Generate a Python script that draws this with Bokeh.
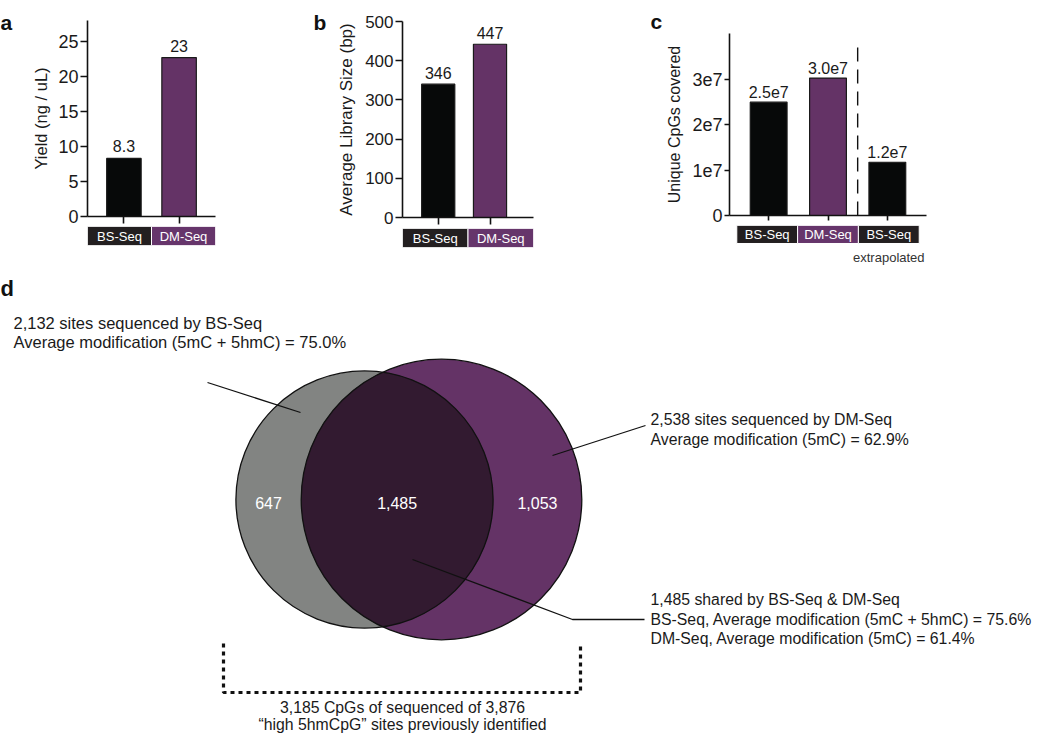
import numpy as np
from bokeh.plotting import figure
from bokeh.models import Range1d, FixedTicker, CustomJSTickFormatter
from bokeh.layouts import row, column
from bokeh.embed import file_html
from bokeh.resources import INLINE
from bokeh.core.properties import value

FONT = "Liberation Sans"

# ---------------- data ----------------
methods_ab = ["BS-Seq", "DM-Seq"]
yield_vals = [8.3, 22.7]
yield_labels = ["8.3", "23"]

libsize_vals = [340, 442]
libsize_labels = ["346", "447"]

cpg_box_text = ["BS-Seq", "DM-Seq", "BS-Seq"]
cpg_sub_text = ["", "", "extrapolated"]
cpg_vals = [2.49e7, 3.02e7, 1.17e7]
cpg_labels = ["2.5e7", "3.0e7", "1.2e7"]

venn_bs_only = 647
venn_shared = 1485
venn_dm_only = 1053

bs_text = ["2,132 sites sequenced by BS-Seq",
           "Average modification (5mC + 5hmC) = 75.0%"]
dm_text = ["2,538 sites sequenced by DM-Seq",
           "Average modification (5mC) = 62.9%"]
shared_text = ["1,485 shared by BS-Seq & DM-Seq",
               "BS-Seq, Average modification (5mC + 5hmC) = 75.6%",
               "DM-Seq, Average modification (5mC) = 61.4%"]
bottom_text = ["3,185 CpGs of sequenced of 3,876",
               "\u201chigh 5hmCpG\u201d sites previously identified"]

# ---------------- styles ----------------
BAR_BLACK = "#070909"
PURPLE = "#643366"
BOX_BLACK = "#231f20"
BOX_PURPLE = "#66356b"
GRAY = "#828482"
OVERLAP = "#321a30"
TXT = "#1a1a1a"


def base_fig(**kw):
    p = figure(output_backend="svg", toolbar_location=None, title=None, **kw)
    p.outline_line_color = None
    p.grid.visible = False
    p.background_fill_color = "white"
    p.border_fill_color = "white"
    return p


def letter_fig(width, height, letter, x, base):
    p = base_fig(width=width, height=height, x_range=Range1d(0, width),
                 y_range=Range1d(height, 0), x_axis_location=None,
                 y_axis_location=None, min_border=0)
    p.text(x=[x], y=[base], text=[letter], text_align="left",
           text_baseline="alphabetic", text_font=value(FONT),
           text_font_size="21px", text_font_style="bold", text_color="#111")
    return p


def bar_panel(width, height, bl, br, bt, bb, xr, yr, yticks, vals, labels,
              colors, ylabel, ylabel_size, tick_size, tick_out, label_standoff,
              bar_w, y_off, formatter=None):
    p = base_fig(width=width, height=height, x_range=Range1d(*xr),
                 y_range=Range1d(*yr), min_border_left=bl, min_border_right=br,
                 min_border_top=bt, min_border_bottom=bb)
    x = list(range(len(vals)))
    p.vbar(x=x, top=vals, width=bar_w, bottom=0, fill_color=colors,
           line_color="#1a1a1a", line_width=1.2)
    p.text(x=x, y=vals, text=labels, text_align="center",
           text_baseline="alphabetic", y_offset=y_off,
           text_font=value(FONT), text_font_size="16px", text_color=TXT)
    ya = p.yaxis[0]
    ya.ticker = FixedTicker(ticks=yticks)
    if formatter is not None:
        ya.formatter = formatter
    ya.axis_label = ylabel
    ya.axis_label_text_font = FONT
    ya.axis_label_text_font_style = "normal"
    ya.axis_label_text_font_size = ylabel_size
    ya.axis_label_text_color = TXT
    ya.axis_label_standoff = label_standoff
    ya.major_label_text_font = FONT
    ya.major_label_text_font_size = tick_size
    ya.major_label_text_color = TXT
    ya.major_label_standoff = 2
    xa = p.xaxis[0]
    xa.ticker = FixedTicker(ticks=x)
    xa.formatter = CustomJSTickFormatter(code="return '';")
    xa.major_label_standoff = 0
    for ax in (xa, ya):
        ax.axis_line_width = 1.6
        ax.axis_line_color = "#111"
        ax.major_tick_line_width = 1.6
        ax.major_tick_line_color = "#111"
        ax.major_tick_in = 0
        ax.major_tick_out = tick_out
        ax.minor_tick_line_color = None
    return p


def box_panel(width, height, bl, br, bb, texts, colors, yr, pad=0.0, subs=None):
    n = len(texts)
    p = base_fig(width=width, height=height,
                 x_range=Range1d(-0.5 - pad, n - 0.5 + pad),
                 y_range=Range1d(*yr), x_axis_location=None, y_axis_location=None,
                 min_border_left=bl, min_border_right=br, min_border_top=0,
                 min_border_bottom=bb)
    xs = np.arange(n)
    p.quad(left=xs - 0.5, right=xs + 0.5, bottom=0, top=1, fill_color=colors,
           line_color="white", line_width=1)
    p.text(x=xs, y=[0.5] * n, text=texts, text_align="center",
           text_baseline="middle", text_font=value(FONT),
           text_font_size="13px", text_color="white")
    if subs is not None:
        keep = [i for i, s in enumerate(subs) if s]
        p.text(x=[xs[i] for i in keep], y=[-0.78] * len(keep),
               text=[subs[i] for i in keep], text_align="center",
               text_baseline="middle", text_font=value(FONT),
               text_font_size="13px", text_color="#333")
    return p


# ---------------- panel a ----------------
la = letter_fig(18, 34, "a", 0, 22)
pa = bar_panel(292, 226, 67, 95, 20, 10, (-0.66, 1.66), (0, 28),
               list(range(0, 26, 5)), yield_vals, yield_labels,
               [BAR_BLACK, PURPLE], "Yield (ng / uL)", "16.5px", "18px", 7, 5,
               0.625, -12)
ba = box_panel(292, 42, 69, 92, 23, methods_ab, [BOX_BLACK, BOX_PURPLE], (0, 1))

# ---------------- panel b ----------------
lb = letter_fig(22, 34, "b", 3, 22)
pb = bar_panel(313, 228, 68, 102, 21, 11, (-0.69, 1.84), (0, 500),
               list(range(0, 501, 100)), libsize_vals, libsize_labels,
               [BAR_BLACK, PURPLE], "Average Library Size (bp)", "17px", "17px",
               7, 6, 0.64, -11)
bb_ = box_panel(313, 40, 70, 112, 21, methods_ab, [BOX_BLACK, BOX_PURPLE], (0, 1))

# ---------------- panel c ----------------
lc = letter_fig(18, 34, "c", 5, 21)
fmt = CustomJSTickFormatter(code="return tick == 0 ? '0' : (tick/1e7).toFixed(0) + 'e7';")
pc = bar_panel(371, 225, 64, 108, 33, 10, (-0.66, 2.66), (0, 4e7),
               [0, 1e7, 2e7, 3e7], cpg_vals, cpg_labels,
               [BAR_BLACK, PURPLE, BAR_BLACK], "Unique CpGs covered", "16px",
               "18px", 5, 6, 0.62, -10, formatter=fmt)
div_x = 0.5 * (1 + 2)
pc.segment(x0=[div_x], y0=[0], x1=[div_x], y1=[4e7 * 0.965],
           line_color="#111", line_width=1.4, line_dash="14 8")
bc = box_panel(371, 43, 58, 100, 0, cpg_box_text,
               [BOX_BLACK, BOX_PURPLE, BOX_BLACK], (-1.39, 1), pad=0.12,
               subs=cpg_sub_text)

# ---------------- panel d (Venn) ----------------
pd_ = base_fig(width=1034, height=466, x_range=Range1d(0, 1034),
               y_range=Range1d(734, 268), x_axis_location=None,
               y_axis_location=None, min_border=0)

K = 2.785
n_bs = venn_bs_only + venn_shared
n_dm = venn_dm_only + venn_shared
r1 = K * np.sqrt(n_bs)
r2 = K * np.sqrt(n_dm)
cy = 499.0
x1 = 364.0
x2 = 441.0
d = x2 - x1
a = (d ** 2 + r1 ** 2 - r2 ** 2) / (2 * d)
h = np.sqrt(r1 ** 2 - a ** 2)
t1 = np.arctan2(h, a)
t2 = np.arctan2(h, d - a)
ang1 = np.linspace(-t1, t1, 200)
ang2 = np.linspace(np.pi - t2, np.pi + t2, 200)
lens_x = np.concatenate([x1 + r1 * np.cos(ang1), x2 + r2 * np.cos(ang2)])
lens_y = np.concatenate([cy + r1 * np.sin(ang1), cy + r2 * np.sin(ang2)])

pd_.ellipse(x=[x1], y=[cy], width=[2 * r1], height=[2 * r1],
            fill_color=GRAY, line_color=None)
pd_.ellipse(x=[x2], y=[cy], width=[2 * r2], height=[2 * r2],
            fill_color=PURPLE, line_color=None)
pd_.patch(x=lens_x, y=lens_y, fill_color=OVERLAP, line_color=None)
pd_.ellipse(x=[x1, x2], y=[cy, cy], width=[2 * r1, 2 * r2],
            height=[2 * r1, 2 * r2], fill_color=None, line_color="#111",
            line_width=1.3)

lens_left = x2 - r2
lens_right = x1 + r1
reg_x = [((x1 - r1) + lens_left) / 2, (lens_left + lens_right) / 2,
         (lens_right + (x2 + r2)) / 2]
pd_.text(x=reg_x, y=[cy + 3] * 3,
         text=[f"{venn_bs_only:,}", f"{venn_shared:,}", f"{venn_dm_only:,}"],
         text_align="center", text_baseline="middle", text_font=value(FONT),
         text_font_size="16px", text_color="white")

# leader lines
pd_.line(x=[207, 300], y=[382, 412], line_color="#111", line_width=1.3)
pd_.line(x=[645, 552], y=[425, 455], line_color="#111", line_width=1.3)
pd_.line(x=[412, 572, 644], y=[559, 619, 619], line_color="#111", line_width=1.3)

TS = "16.5px"
TS_R = "15.8px"
pd_.text(x=[13] * 2, y=[322, 341], text=bs_text, text_align="left",
         text_baseline="middle", text_font=value(FONT), text_font_size=TS,
         text_color=TXT)
pd_.text(x=[650] * 2, y=[419, 439], text=dm_text, text_align="left",
         text_baseline="middle", text_font=value(FONT), text_font_size=TS_R,
         text_color=TXT)
pd_.text(x=[650] * 3, y=[599, 618.5, 638], text=shared_text, text_align="left",
         text_baseline="middle", text_font=value(FONT), text_font_size=TS_R,
         text_color=TXT)
pd_.text(x=[402] * 2, y=[707, 724], text=bottom_text, text_align="center",
         text_baseline="middle", text_font=value(FONT), text_font_size=TS_R,
         text_color=TXT)

# dotted bracket
pd_.line(x=[223, 223, 580, 580], y=[643, 692, 692, 643], line_color="#111",
         line_width=3.2, line_dash="4 4")

pd_.text(x=[0], y=[288], text=["d"], text_align="left",
         text_baseline="alphabetic", text_font=value(FONT),
         text_font_size="22px", text_font_style="bold", text_color="#111")

layout = column(
    row(row(la, column(pa, ba)), row(lb, column(pb, bb_)), row(lc, column(pc, bc))),
    pd_,
)

open("out.html", "w").write(file_html(layout, INLINE))
